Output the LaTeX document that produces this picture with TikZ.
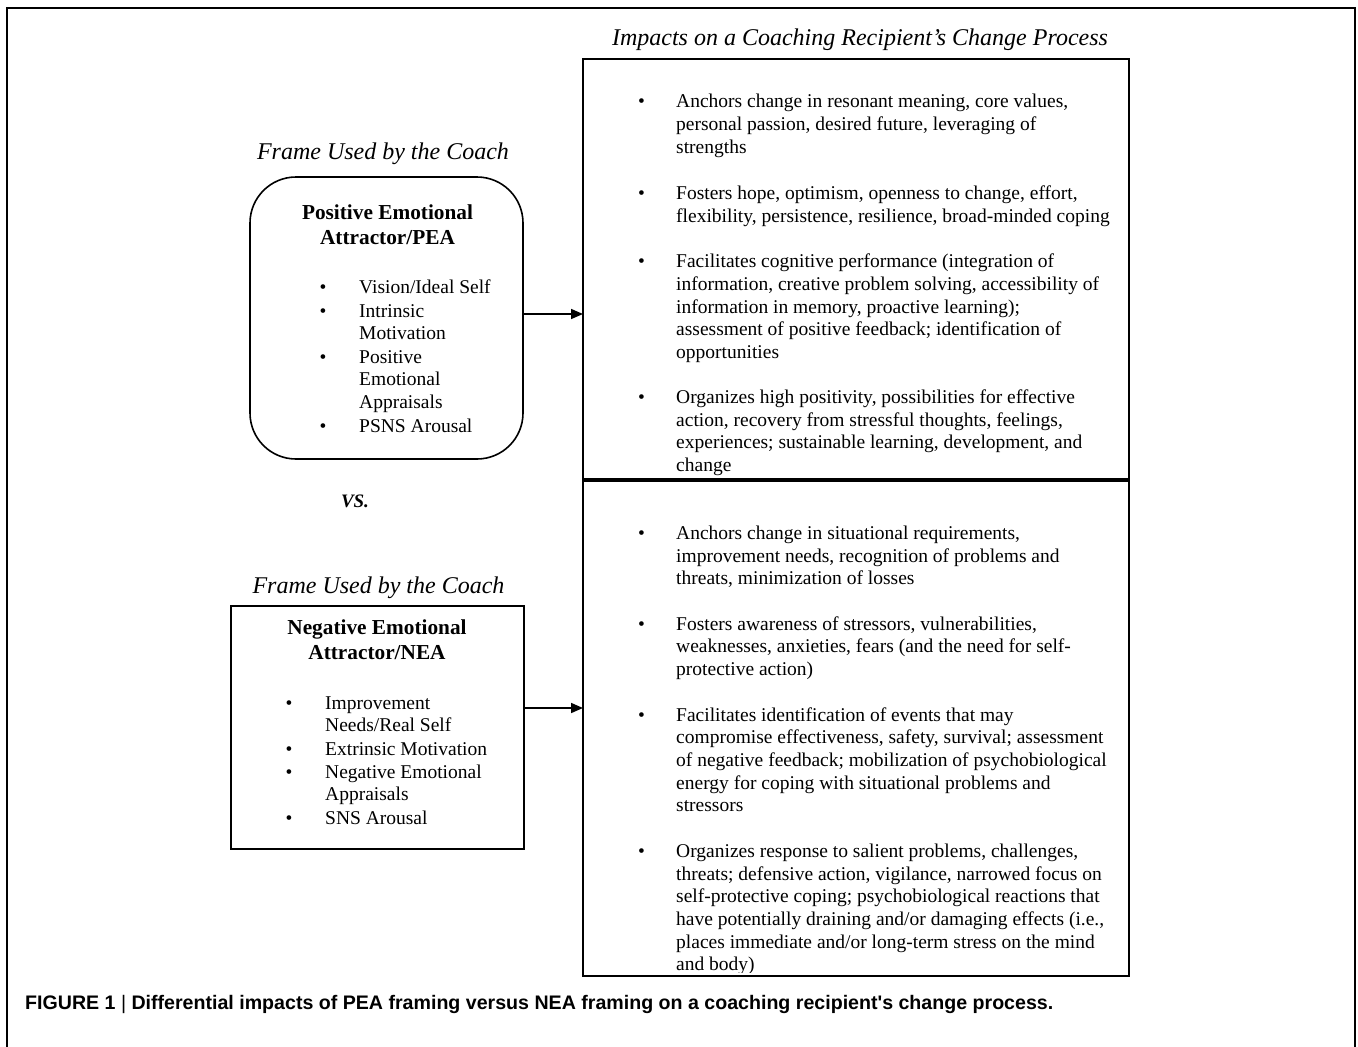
\documentclass[tikz,border=0pt]{standalone}
\usepackage{fontspec}
\setmainfont{Liberation Serif}
\newfontfamily\capfont{Liberation Sans}
\usetikzlibrary{arrows.meta}
\newcommand{\mylines}[1]{\begin{tabular}[t]{@{}l@{}}#1\end{tabular}}
\tikzset{
  body/.style={font=\fontsize{19.5}{22.7}\selectfont, inner sep=0pt, anchor=base west},
  bul/.style={font=\fontsize{19.5}{22.7}\selectfont, inner sep=0pt, anchor=base},
  ttl/.style={font=\fontsize{24}{28}\selectfont\itshape, inner sep=0pt, anchor=base},
  hdr/.style={font=\fontsize{21.3}{25}\selectfont\bfseries, inner sep=0pt, anchor=base},
  frame/.style={draw=black, line width=1.6pt},
  conn/.style={line width=1.6pt, -{Triangle[length=12pt,width=10pt]}}
}
\begin{document}
\begin{tikzpicture}[x=1pt,y=-1pt]
\useasboundingbox (0,0) rectangle (1358,1047);
% outer frame (open at the bottom)
\draw[line width=2.6pt] (7,1047) -- (7,8) -- (1355,8) -- (1355,1047);

% titles
\node[ttl] (t1) at (860,45) {Impacts on a Coaching Recipient's Change Process};
\node[ttl] (t2) at (383,159) {Frame Used by the Coach};
\node[ttl] (t3) at (378.5,593) {Frame Used by the Coach};
\node[font=\fontsize{19}{22}\selectfont\bfseries\itshape, inner sep=0pt, anchor=base] (vs) at (355,507) {VS.};

% right box
\draw[frame] (583,59) rectangle (1129,976);
\coordinate (rtop) at (583,314);
\coordinate (rbot) at (583,708);
\draw[line width=4pt] (583,480) -- (1129,480);

\begin{scope}
\clip (584,60) rectangle (1128,972);
% upper section
\node[bul] (pb1) at (641.5,107.7) {•};
\node[body] (pi1) at (676,107.7) {\mylines{Anchors change in resonant meaning, core values,\\ personal passion, desired future, leveraging of\\ strengths}};
\node[bul] (pb2) at (641.5,199.3) {•};
\node[body] (pi2) at (676,199.3) {\mylines{Fosters hope, optimism, openness to change, effort,\\ flexibility, persistence, resilience, broad-minded coping}};
\node[bul] (pb3) at (641.5,267.7) {•};
\node[body] (pi3) at (676,267.7) {\mylines{Facilitates cognitive performance (integration of\\ information, creative problem solving, accessibility of\\ information in memory, proactive learning);\\ assessment of positive feedback; identification of\\ opportunities}};
\node[bul] (pb4) at (641.5,403.3) {•};
\node[body] (pi4) at (676,403.3) {\mylines{Organizes high positivity, possibilities for effective\\ action, recovery from stressful thoughts, feelings,\\ experiences; sustainable learning, development, and\\ change}};
% lower section
\node[bul] (nb1) at (641.5,539.3) {•};
\node[body] (ni1) at (676,539.3) {\mylines{Anchors change in situational requirements,\\ improvement needs, recognition of problems and\\ threats, minimization of losses}};
\node[bul] (nb2) at (641.5,630) {•};
\node[body] (ni2) at (676,630) {\mylines{Fosters awareness of stressors, vulnerabilities,\\ weaknesses, anxieties, fears (and the need for self-\\ protective action)}};
\node[bul] (nb3) at (641.5,721) {•};
\node[body] (ni3) at (676,721) {\mylines{Facilitates identification of events that may\\ compromise effectiveness, safety, survival; assessment\\ of negative feedback; mobilization of psychobiological\\ energy for coping with situational problems and\\ stressors}};
\node[bul] (nb4) at (641.5,857.3) {•};
\node[body] (ni4) at (676,857.3) {\mylines{Organizes response to salient problems, challenges,\\ threats; defensive action, vigilance, narrowed focus on\\ self-protective coping; psychobiological reactions that\\ have potentially draining and/or damaging effects (i.e.,\\ places immediate and/or long-term stress on the mind\\ and body)}};
\end{scope}

% PEA box
\node[frame, rounded corners=46pt, minimum width=273pt, minimum height=282pt, inner sep=0pt] (pea) at (386.5,318) {};
\node[hdr] (peah1) at (387.5,219) {Positive Emotional};
\node[hdr] (peah2) at (387.5,244) {Attractor/PEA};
\node[bul] (pab1) at (323,293) {•};
\node[body] (pal1) at (359,293) {\mylines{Vision/Ideal Self}};
\node[bul] (pab2) at (323,317) {•};
\node[body] (pal2) at (359,317) {\mylines{Intrinsic\\ Motivation}};
\node[bul] (pab3) at (323,363) {•};
\node[body] (pal3) at (359,363) {\mylines{Positive\\ Emotional\\ Appraisals}};
\node[bul] (pab4) at (323,432) {•};
\node[body] (pal4) at (359,432) {\mylines{PSNS Arousal}};

% NEA box
\node[frame, rectangle, minimum width=293pt, minimum height=243pt, inner sep=0pt] (nea) at (377.5,727.5) {};
\node[hdr] (neah1) at (377,634) {Negative Emotional};
\node[hdr] (neah2) at (377,659) {Attractor/NEA};
\node[bul] (nab1) at (289,709) {•};
\node[body] (nal1) at (325,709) {\mylines{Improvement\\ Needs/Real Self}};
\node[bul] (nab2) at (289,755) {•};
\node[body] (nal2) at (325,755) {\mylines{Extrinsic Motivation}};
\node[bul] (nab3) at (289,778) {•};
\node[body] (nal3) at (325,778) {\mylines{Negative Emotional\\ Appraisals}};
\node[bul] (nab4) at (289,824) {•};
\node[body] (nal4) at (325,824) {\mylines{SNS Arousal}};

% connectors
\draw[conn] (pea.east |- rtop) -- (rtop);
\draw[conn] (nea.east |- rbot) -- (rbot);

% caption
\node[font=\fontsize{19.6}{22}\selectfont\capfont\bfseries, inner sep=0pt, anchor=base west] (cap) at (25,1009) {FIGURE 1 {\mdseries|} Differential impacts of PEA framing versus NEA framing on a coaching recipient's change process.};
\end{tikzpicture}
\end{document}
